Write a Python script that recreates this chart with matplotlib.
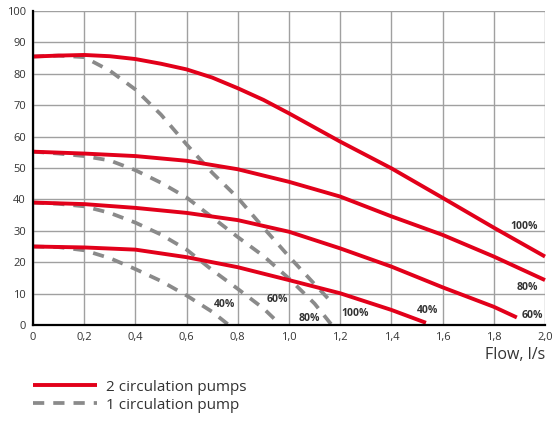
import matplotlib
matplotlib.use("Agg")
import matplotlib.pyplot as plt

plt.rcParams['font.family'] = ['Open Sans', 'DejaVu Sans']

# 2 circulation pumps (red, solid)
red_100_x = [0, 0.1, 0.2, 0.3, 0.4, 0.5, 0.6, 0.7, 0.8, 0.9, 1.0, 1.2, 1.4, 1.6, 1.8, 2.0]
red_100_y = [85.5, 85.8, 86.0, 85.6, 84.7, 83.2, 81.4, 78.8, 75.4, 71.7, 67.4, 58.4, 49.9, 40.5, 31.0, 21.8]
red_80_x = [0, 0.2, 0.4, 0.6, 0.8, 1.0, 1.2, 1.4, 1.6, 1.8, 2.0]
red_80_y = [55.2, 54.6, 53.8, 52.3, 49.6, 45.6, 40.9, 34.6, 28.7, 21.8, 14.3]
red_60_x = [0, 0.2, 0.4, 0.6, 0.8, 1.0, 1.2, 1.4, 1.6, 1.8, 1.89]
red_60_y = [39.0, 38.5, 37.3, 35.7, 33.4, 29.7, 24.4, 18.6, 12.0, 5.8, 2.4]
red_40_x = [0, 0.2, 0.4, 0.6, 0.8, 1.0, 1.2, 1.4, 1.535]
red_40_y = [25.0, 24.7, 24.0, 21.6, 18.4, 14.3, 10.1, 4.8, 0.7]

# 1 circulation pump (grey, dashed)
grey_100_x = [0, 0.1, 0.2, 0.3, 0.4, 0.5, 0.6, 0.7, 0.8, 0.9, 1.0, 1.1, 1.175]
grey_100_y = [85.5, 85.8, 85.3, 81.0, 75.0, 67.0, 57.5, 48.5, 40.5, 31.0, 21.8, 13.0, 6.5]
grey_80_x = [0, 0.1, 0.2, 0.3, 0.4, 0.5, 0.6, 0.7, 0.8, 0.9, 1.0, 1.1, 1.167]
grey_80_y = [55.2, 54.6, 53.8, 52.4, 49.3, 45.3, 40.6, 34.3, 28.0, 22.0, 14.8, 6.8, 0.0]
grey_60_x = [0, 0.1, 0.2, 0.3, 0.4, 0.5, 0.6, 0.7, 0.8, 0.9, 0.955]
grey_60_y = [39.0, 38.6, 37.8, 35.7, 32.6, 28.8, 24.0, 17.5, 11.5, 5.3, 1.0]
grey_40_x = [0, 0.1, 0.2, 0.3, 0.4, 0.5, 0.6, 0.7, 0.765]
grey_40_y = [25.0, 24.8, 23.8, 21.3, 17.8, 14.0, 9.4, 4.2, 0.0]

x_ticks = [0, 0.2, 0.4, 0.6, 0.8, 1.0, 1.2, 1.4, 1.6, 1.8, 2.0]
x_tick_labels = ['0', '0,2', '0,4', '0,6', '0,8', '1,0', '1,2', '1,4', '1,6', '1,8', '2,0']
y_ticks = list(range(0, 101, 10))

red_labels = [('100%', 1.918, 31.5), ('80%', 1.93, 11.8), ('60%', 1.95, 2.9), ('40%', 1.54, 4.5)]
grey_labels = [('40%', 0.75, 6.4), ('60%', 0.955, 8.0), ('80%', 1.08, 2.2), ('100%', 1.26, 3.8)]

RED = '#e2001a'
GREY = '#8a8a8a'

fig = plt.figure(figsize=(5.54, 4.21), dpi=100)
ax = fig.add_axes([33 / 554, 96 / 421, 512 / 554, 314 / 421])

grey_sets = [(grey_100_x, grey_100_y), (grey_80_x, grey_80_y), (grey_60_x, grey_60_y), (grey_40_x, grey_40_y)]
red_sets = [(red_100_x, red_100_y), (red_80_x, red_80_y), (red_60_x, red_60_y), (red_40_x, red_40_y)]

grey_lines = []
for xs, ys in grey_sets:
    ln, = ax.plot(xs, ys, color=GREY, lw=2.7, linestyle=(0, (3.0, 2.4)),
                  dash_capstyle='butt', solid_joinstyle='round', zorder=3, clip_on=False)
    grey_lines.append(ln)

red_lines = []
for xs, ys in red_sets:
    ln, = ax.plot(xs, ys, color=RED, lw=2.8, solid_capstyle='butt',
                  solid_joinstyle='round', zorder=4, clip_on=False)
    red_lines.append(ln)

for txt, x, y in red_labels + grey_labels:
    ax.text(x, y, txt, fontsize=7.5, fontweight='bold', color='#333333',
            ha='center', va='center', zorder=5)

ax.set_xlim(0, 2.0)
ax.set_ylim(0, 100)
ax.set_xticks(x_ticks)
ax.set_xticklabels(x_tick_labels)
ax.set_yticks(y_ticks)
ax.tick_params(length=0, labelsize=8, labelcolor='#333333', pad=5)
ax.grid(True, color='#a0a0a0', lw=1.0, zorder=0)
ax.set_axisbelow(True)

for side in ['top', 'right']:
    ax.spines[side].set_visible(False)
for side in ['left', 'bottom']:
    ax.spines[side].set_color('black')
    ax.spines[side].set_linewidth(1.6)
    ax.spines[side].set_zorder(6)

fig.text(545 / 554, 1 - 355 / 421, 'Flow, l/s', fontsize=11.5, color='#333333',
         ha='right', va='center')

fig.legend([red_lines[0], grey_lines[0]], ['2 circulation pumps', '1 circulation pump'],
           loc='upper left', bbox_to_anchor=(25 / 554, 1 - 372 / 421),
           frameon=False, fontsize=11, handlelength=4.2, handletextpad=0.6,
           labelspacing=0.2, borderpad=0, labelcolor='#333333')

fig.savefig('out.png', dpi=100)
